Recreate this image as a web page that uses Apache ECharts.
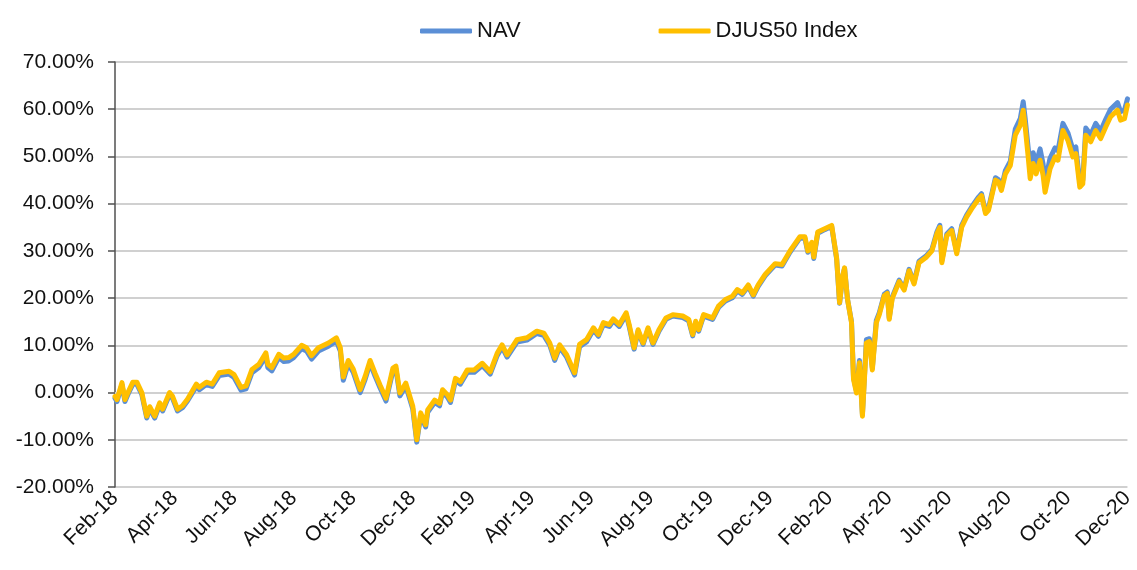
<!DOCTYPE html>
<html>
<head>
<meta charset="utf-8">
<script src="https://cdn.jsdelivr.net/npm/echarts@6/dist/echarts.min.js"></script>
<style>
html,body{margin:0;padding:0;background:#fff;}
#chart{width:1137px;height:570px;}
</style>
</head>
<body>
<div id="chart"></div>
<script>
// Tick labels on the x axis (every two months, starting Feb-18)
const monthLabels = ['Feb-18','Apr-18','Jun-18','Aug-18','Oct-18','Dec-18','Feb-19','Apr-19','Jun-19','Aug-19','Oct-19','Dec-19','Feb-20','Apr-20','Jun-20','Aug-20','Oct-20','Dec-20'];

// Observation dates
const dates = [
'2018-02-01','2018-02-03','2018-02-08','2018-02-11','2018-02-14','2018-02-19','2018-02-23','2018-02-28',
'2018-03-03','2018-03-06','2018-03-11','2018-03-16','2018-03-19','2018-03-26','2018-03-29',
'2018-04-04','2018-04-09','2018-04-14','2018-04-23','2018-04-26',
'2018-05-03','2018-05-09','2018-05-16','2018-05-26',
'2018-06-01','2018-06-08','2018-06-13','2018-06-19','2018-06-26',
'2018-07-03','2018-07-05','2018-07-09','2018-07-16','2018-07-21','2018-07-26',
'2018-08-01','2018-08-09','2018-08-14','2018-08-19','2018-08-26',
'2018-09-06','2018-09-14','2018-09-18','2018-09-21','2018-09-26',
'2018-10-01','2018-10-08','2018-10-13','2018-10-18','2018-10-23','2018-10-28',
'2018-11-04','2018-11-11','2018-11-14','2018-11-18','2018-11-24',
'2018-12-01','2018-12-05','2018-12-09','2018-12-14','2018-12-16','2018-12-23','2018-12-28',
'2019-01-01','2019-01-06','2019-01-09','2019-01-14','2019-01-19','2019-01-26',
'2019-02-03','2019-02-11','2019-02-19','2019-02-26',
'2019-03-01','2019-03-06','2019-03-16','2019-03-26',
'2019-04-06','2019-04-13','2019-04-19','2019-04-24','2019-04-29',
'2019-05-06','2019-05-14','2019-05-19','2019-05-26',
'2019-06-03','2019-06-08','2019-06-13','2019-06-19','2019-06-23','2019-06-29',
'2019-07-06','2019-07-09','2019-07-14','2019-07-18','2019-07-23','2019-07-28',
'2019-08-03','2019-08-09','2019-08-16','2019-08-23',
'2019-09-03','2019-09-09','2019-09-13','2019-09-16','2019-09-19','2019-09-24',
'2019-10-03','2019-10-09','2019-10-16','2019-10-23','2019-10-28',
'2019-11-03','2019-11-09','2019-11-14','2019-11-19','2019-11-26',
'2019-12-06','2019-12-13','2019-12-21',
'2020-01-01','2020-01-06','2020-01-09','2020-01-13','2020-01-15','2020-01-19','2020-01-26',
'2020-02-03','2020-02-08','2020-02-11','2020-02-14','2020-02-16','2020-02-19','2020-02-23','2020-02-25','2020-02-28',
'2020-03-01','2020-03-04','2020-03-08','2020-03-11','2020-03-14','2020-03-18','2020-03-21','2020-03-26','2020-03-29',
'2020-04-01','2020-04-04','2020-04-11','2020-04-16','2020-04-21','2020-04-26',
'2020-05-01','2020-05-08','2020-05-14','2020-05-19','2020-05-22','2020-05-24','2020-05-29',
'2020-06-04','2020-06-09','2020-06-14','2020-06-19','2020-06-24',
'2020-07-01','2020-07-04','2020-07-08','2020-07-11','2020-07-18','2020-07-21','2020-07-24','2020-07-28',
'2020-08-03','2020-08-08','2020-08-13','2020-08-16','2020-08-18','2020-08-21','2020-08-23','2020-08-26','2020-08-29',
'2020-09-03','2020-09-06','2020-09-08','2020-09-13','2020-09-18','2020-09-21','2020-09-26',
'2020-10-01','2020-10-06','2020-10-09','2020-10-13','2020-10-16','2020-10-19','2020-10-24','2020-10-29',
'2020-11-04','2020-11-09','2020-11-14','2020-11-21','2020-11-24','2020-11-28',
'2020-12-01'
];

// NAV cumulative return (%)
const nav = [
-1.2,-1.9,1.7,-1.9,-0.4,1.8,1.8,-0.4,
-5.4,-3.4,-5.4,-2.6,-3.9,-0.4,-1.2,
-3.9,-3.2,-1.8,1.3,0.6,
1.7,1.3,3.6,3.9,
3.2,0.5,0.8,4.2,5.3,
7.7,5.3,4.6,7.4,6.6,6.7,
7.4,9.3,8.8,7.1,8.8,
9.8,10.9,8.8,2.6,6.1,
4.3,0.0,2.8,6.2,3.5,1.0,
-1.8,4.6,5.0,-0.7,1.4,
-3.5,-10.5,-4.9,-7.3,-4.2,-2.1,-2.8,
0.1,-1.0,-2.1,2.5,1.8,4.3,
4.3,5.7,3.9,7.8,
9.6,7.5,10.7,11.1,
12.5,12.1,10.0,6.8,9.6,
7.5,3.7,9.7,10.7,
13.3,11.9,14.4,14.0,15.2,14.0,
16.5,14.0,9.2,13.0,10.2,13.4,
10.2,13.0,15.5,16.2,
15.9,15.2,12.0,14.8,13.0,16.2,
15.5,18.0,19.4,20.1,21.5,
20.8,22.5,20.4,22.5,24.7,
27.0,26.8,29.7,
32.7,32.7,29.7,31.5,28.4,33.7,34.5,
35.2,28.3,18.9,24.5,26.3,19.7,15.0,3.2,0.3,
6.8,-4.6,11.2,11.4,5.2,15.3,16.9,20.8,21.3,
15.8,20.2,23.8,22.0,26.1,23.3,
27.8,28.9,30.3,34.0,35.4,27.9,33.6,
34.7,29.8,35.4,37.6,39.3,
41.4,42.1,38.3,39.0,45.5,45.1,43.3,47.0,
49.0,55.8,58.0,61.6,58.0,51.8,47.5,50.8,48.6,
51.6,48.4,44.6,49.6,51.8,51.2,57.0,
55.0,51.5,52.0,44.4,45.0,56.0,54.6,57.0,
55.4,57.8,60.0,61.4,59.5,59.8,
62.2
];

// DJUS50 Index cumulative return (%)
const djus = [
-0.8,-1.5,2.1,-1.5,0.0,2.2,2.2,0.0,
-5.0,-3.0,-5.0,-2.2,-3.5,0.0,-0.8,
-3.5,-2.8,-1.4,1.8,1.1,
2.2,1.8,4.2,4.5,
3.8,1.1,1.4,4.9,6.0,
8.4,6.0,5.3,8.1,7.3,7.4,
8.1,10.0,9.5,7.8,9.5,
10.5,11.6,9.5,3.3,6.8,
5.0,0.6,3.4,6.8,4.1,1.6,
-1.2,5.2,5.6,-0.1,2.0,
-2.9,-10.0,-4.3,-6.8,-3.7,-1.6,-2.3,
0.6,-0.5,-1.6,3.0,2.3,4.8,
4.8,6.2,4.4,8.3,
10.1,8.0,11.2,11.6,
13.0,12.6,10.5,7.3,10.1,
8.0,4.2,10.2,11.2,
13.7,12.3,14.8,14.4,15.6,14.4,
16.9,14.4,9.5,13.3,10.5,13.7,
10.5,13.3,15.8,16.5,
16.2,15.5,12.3,15.1,13.3,16.5,
15.8,18.3,19.7,20.4,21.8,
21.1,22.8,20.7,22.8,25.0,
27.3,27.1,30.0,
33.0,33.0,30.0,31.8,28.7,34.0,34.7,
35.4,28.5,19.0,24.6,26.4,19.7,14.8,2.8,-0.1,
6.3,-5.0,10.5,10.8,4.8,14.8,16.5,20.5,21.0,
15.5,19.9,23.5,21.7,25.8,23.0,
27.5,28.6,30.0,33.6,35.0,27.5,33.2,
34.3,29.4,35.0,37.2,38.9,
41.0,41.7,37.9,38.6,45.0,44.6,42.8,46.3,
48.1,54.5,56.6,59.8,56.2,49.9,45.3,48.5,46.3,
49.2,46.0,42.4,47.4,49.9,49.2,55.5,
53.4,49.9,50.6,43.5,44.2,54.5,53.1,55.5,
53.8,56.2,58.4,59.8,57.7,58.0,
60.9
];

const seriesNames = ['NAV', 'DJUS50 Index'];
const seriesColors = ['#5b8fd6', '#ffbf00'];

// months elapsed since 1 Feb 2018 (x axis unit)
function monthPos(s) {
  const p = s.split('-').map(Number);
  return (p[0] - 2018) * 12 + (p[1] - 2) + (p[2] - 1) / 30;
}
const xs = dates.map(monthPos);
const navData = xs.map((x, i) => [x, nav[i]]);
const djusData = xs.map((x, i) => [x, djus[i]]);

const chart = echarts.init(document.getElementById('chart'), null, {renderer: 'canvas'});
const font = '"Liberation Sans", Arial, sans-serif';
chart.setOption({
  animation: false,
  backgroundColor: '#ffffff',
  textStyle: {fontFamily: font},
  legend: {
    left: 415, top: 15,
    itemWidth: 52, itemHeight: 5, itemGap: 138,
    textStyle: {fontSize: 22, color: '#111111', fontFamily: font},
    data: [
      {name: seriesNames[0], icon: 'roundRect', itemStyle: {color: seriesColors[0]}},
      {name: seriesNames[1], icon: 'roundRect', itemStyle: {color: seriesColors[1]}}
    ]
  },
  grid: {left: 115, right: 2, top: 62, bottom: 83, containLabel: false},
  xAxis: {
    type: 'value', min: 0, max: 34, interval: 2,
    axisLine: {show: true, lineStyle: {color: '#d0d0d0', width: 2}},
    axisTick: {show: false},
    splitLine: {show: false},
    axisLabel: {
      rotate: 45, fontSize: 21, color: '#111111', fontFamily: font, margin: 8,
      showMinLabel: true, showMaxLabel: true,
      formatter: v => monthLabels[Math.round(v / 2)] || ''
    }
  },
  yAxis: {
    type: 'value', min: -20, max: 70, interval: 10,
    axisLine: {show: true, lineStyle: {color: '#505050', width: 1.5}},
    axisTick: {show: true, inside: false, length: 7, lineStyle: {color: '#505050', width: 1.5}},
    splitLine: {show: true, lineStyle: {color: '#d0d0d0', width: 2}},
    axisLabel: {
      fontSize: 21, color: '#111111', fontFamily: font, margin: 21,
      formatter: v => v.toFixed(2) + '%'
    }
  },
  series: [
    {
      name: seriesNames[0], type: 'line', data: navData,
      showSymbol: false, symbol: 'none',
      lineStyle: {color: seriesColors[0], width: 5, cap: 'round', join: 'round'},
      itemStyle: {color: seriesColors[0]},
      z: 2
    },
    {
      name: seriesNames[1], type: 'line', data: djusData,
      showSymbol: false, symbol: 'none',
      lineStyle: {color: seriesColors[1], width: 5, cap: 'round', join: 'round'},
      itemStyle: {color: seriesColors[1]},
      z: 3
    }
  ]
});
</script>
</body>
</html>
